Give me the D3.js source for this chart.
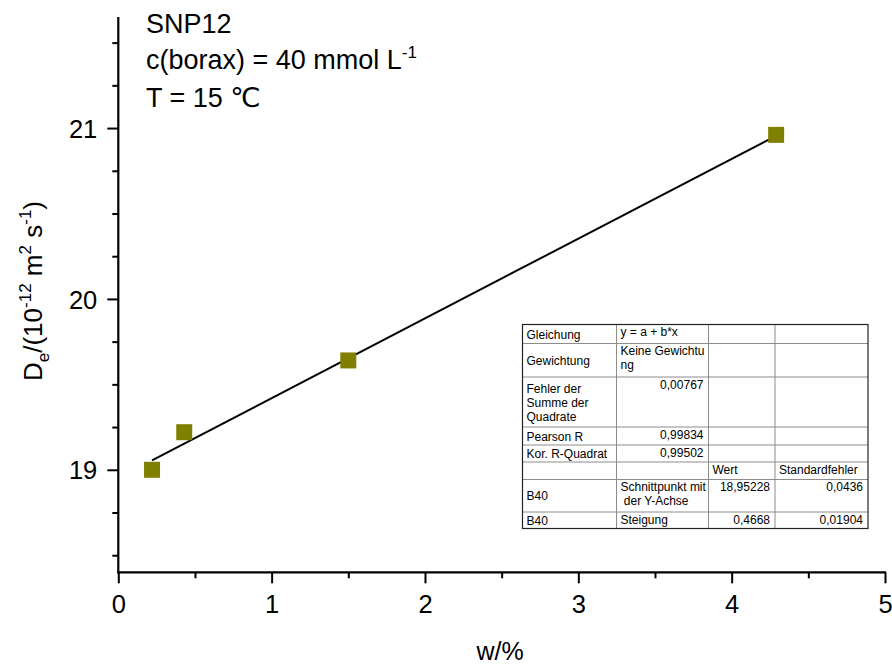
<!DOCTYPE html>
<html>
<head>
<meta charset="utf-8">
<script src="https://cdn.jsdelivr.net/npm/d3@7"></script>
<style>
  html, body { margin: 0; padding: 0; background: #fff; }
  svg { display: block; }
  text { font-family: "Liberation Sans", Arial, "DejaVu Sans", sans-serif; fill: #000; }
</style>
</head>
<body>
<svg id="chart" width="892" height="668"></svg>
<script>
// Effective diffusion coefficient vs. mass fraction (SNP12, 40 mmol/L borax, 15 °C)
const wPercent = [0.22, 0.43, 1.5, 4.29];
const De = [19.0, 19.22, 19.64, 20.96];

// Linear fit results (y = a + b*x)
const fitIntercept = 18.95228;
const fitSlope = 0.4668;

// Axis ticks
const xMajorTicks = [0, 1, 2, 3, 4, 5];
const xMinorTicks = [0.5, 1.5, 2.5, 3.5, 4.5];
const yMajorTicks = [19, 20, 21];
const yMinorTicks = [18.5, 18.75, 19.25, 19.5, 19.75, 20.25, 20.5, 20.75, 21.25, 21.5];

// Annotation lines
const titleLines = ["SNP12", "c(borax) = 40 mmol L", "T = 15 \u2103"];

// Fit report table contents (one array per row, four columns)
const tableRows = [
  [["Gleichung"], ["y = a + b*x"], [], []],
  [["Gewichtung"], ["Keine Gewichtu", "ng"], [], []],
  [["Fehler der", "Summe der", "Quadrate"], ["0,00767"], [], []],
  [["Pearson R"], ["0,99834"], [], []],
  [["Kor. R-Quadrat"], ["0,99502"], [], []],
  [[], [], ["Wert"], ["Standardfehler"]],
  [["B40"], ["Schnittpunkt mit", " der Y-Achse"], ["18,95228"], ["0,0436"]],
  [["B40"], ["Steigung"], ["0,4668"], ["0,01904"]]
];
// which cells are right aligned numbers
const numericCell = [
  [false, false, false, false],
  [false, false, false, false],
  [false, true, false, false],
  [false, true, false, false],
  [false, true, false, false],
  [false, false, false, false],
  [false, false, true, true],
  [false, false, true, true]
];

const svg = d3.select("#chart");

const x = d3.scaleLinear().domain([0, 5]).range([118.3, 885]);
const y = d3.scaleLinear().domain([18.4, 21.65]).range([572.3, 17]);

const axisFont = 25.5;

// ---- Y axis
const gy = svg.append("g").attr("transform", `translate(${x(0)},0)`);
gy.append("line")
  .attr("x1", 0).attr("x2", 0)
  .attr("y1", y.range()[1]).attr("y2", y.range()[0] + 1)
  .attr("stroke", "#000").attr("stroke-width", 2.2);
gy.append("g")
  .call(d3.axisLeft(y).tickValues(yMajorTicks).tickSize(11).tickPadding(10).tickSizeOuter(0).tickFormat(d3.format("d")))
  .call(g => g.select(".domain").remove())
  .call(g => g.selectAll("line").attr("stroke", "#000").attr("stroke-width", 2))
  .call(g => g.selectAll("text").attr("font-size", axisFont).attr("font-family", null).attr("dy", "0.36em"));
gy.append("g")
  .call(d3.axisLeft(y).tickValues(yMinorTicks).tickSize(6).tickSizeOuter(0).tickFormat(""))
  .call(g => g.select(".domain").remove())
  .call(g => g.selectAll("line").attr("stroke", "#000").attr("stroke-width", 2));

// ---- X axis
const gx = svg.append("g").attr("transform", `translate(0,${y(18.4)})`);
gx.append("line")
  .attr("x1", x(0) - 1).attr("x2", x(5) + 1)
  .attr("y1", 0).attr("y2", 0)
  .attr("stroke", "#000").attr("stroke-width", 2.2);
gx.append("g")
  .call(d3.axisBottom(x).tickValues(xMajorTicks).tickSize(11).tickPadding(12).tickSizeOuter(0).tickFormat(d3.format("d")))
  .call(g => g.select(".domain").remove())
  .call(g => g.selectAll("line").attr("stroke", "#000").attr("stroke-width", 2))
  .call(g => g.selectAll("text").attr("font-size", axisFont).attr("font-family", null));
gx.append("g")
  .call(d3.axisBottom(x).tickValues(xMinorTicks).tickSize(6).tickSizeOuter(0).tickFormat(""))
  .call(g => g.select(".domain").remove())
  .call(g => g.selectAll("line").attr("stroke", "#000").attr("stroke-width", 2));

// ---- Axis titles
svg.append("text")
  .attr("x", 500).attr("y", 660)
  .attr("text-anchor", "middle")
  .attr("font-size", 25)
  .text("w/%");

const yTitle = svg.append("text")
  .attr("transform", "translate(42,291) rotate(-90)")
  .attr("text-anchor", "middle")
  .attr("font-size", 26);
yTitle.append("tspan").text("D");
yTitle.append("tspan").attr("font-size", 17).attr("dy", 7).text("e");
yTitle.append("tspan").attr("dy", -7).text("/(10");
yTitle.append("tspan").attr("font-size", 17).attr("dy", -11).text("-12");
yTitle.append("tspan").attr("dy", 11).text(" m");
yTitle.append("tspan").attr("font-size", 17).attr("dy", -11).text("2");
yTitle.append("tspan").attr("dy", 11).text(" s");
yTitle.append("tspan").attr("font-size", 17).attr("dy", -11).text("-1");
yTitle.append("tspan").attr("dy", 11).text(")");

// ---- Annotation block
const titleBase = [33.3, 69, 106.7];
titleLines.forEach((t, i) => {
  const tx = svg.append("text")
    .attr("x", 146).attr("y", titleBase[i])
    .attr("font-size", 27)
    .text(t);
  if (i === 1) {
    tx.append("tspan").attr("font-size", 17).attr("dy", -11).text("-1");
  }
});

// ---- Fit line
const xs = d3.extent(wPercent);
svg.append("line")
  .attr("x1", x(xs[0])).attr("y1", y(fitIntercept + fitSlope * xs[0]))
  .attr("x2", x(xs[1])).attr("y2", y(fitIntercept + fitSlope * xs[1]))
  .attr("stroke", "#000").attr("stroke-width", 2);

// ---- Data markers
const markerSize = 16;
svg.append("g").selectAll("rect")
  .data(wPercent.map((w, i) => [w, De[i]]))
  .join("rect")
  .attr("x", d => x(d[0]) - markerSize / 2)
  .attr("y", d => y(d[1]) - markerSize / 2)
  .attr("width", markerSize).attr("height", markerSize)
  .attr("fill", "#808000");

// ---- Fit report table
const colEdges = [522.5, 616.5, 708.5, 775, 868];
const rowEdges = [324.5, 343.5, 377, 427, 445, 462, 479.5, 512, 528.5];
const tbl = svg.append("g");
tbl.append("rect")
  .attr("x", colEdges[0]).attr("y", rowEdges[0])
  .attr("width", colEdges[4] - colEdges[0]).attr("height", rowEdges[8] - rowEdges[0])
  .attr("fill", "#fff");
rowEdges.slice(1, -1).forEach(ry => {
  tbl.append("line").attr("x1", colEdges[0]).attr("x2", colEdges[4])
    .attr("y1", ry).attr("y2", ry).attr("stroke", "#8c8c8c").attr("stroke-width", 1);
});
colEdges.slice(1, -1).forEach(cx => {
  tbl.append("line").attr("x1", cx).attr("x2", cx)
    .attr("y1", rowEdges[0]).attr("y2", rowEdges[8]).attr("stroke", "#8c8c8c").attr("stroke-width", 1);
});
tbl.append("rect")
  .attr("x", colEdges[0]).attr("y", rowEdges[0])
  .attr("width", colEdges[4] - colEdges[0]).attr("height", rowEdges[8] - rowEdges[0])
  .attr("fill", "none").attr("stroke", "#222").attr("stroke-width", 1.2);

const cellFont = 12;
const lineGap = 14;
tableRows.forEach((row, r) => {
  const top = rowEdges[r], bottom = rowEdges[r + 1];
  row.forEach((lines, c) => {
    if (!lines.length) return;
    const left = colEdges[c], right = colEdges[c + 1];
    const right_ = numericCell[r][c];
    let firstBase;
    if (c === 0) {
      // first column is centred vertically
      const blockH = (lines.length - 1) * lineGap;
      firstBase = (top + bottom) / 2 - blockH / 2 + 4.5;
    } else {
      firstBase = top + 11.5;
    }
    const t = tbl.append("text")
      .attr("font-size", cellFont)
      .attr("text-anchor", right_ ? "end" : "start")
      .attr("xml:space", "preserve");
    lines.forEach((ln, k) => {
      t.append("tspan")
        .attr("x", right_ ? right - 5 : left + 4)
        .attr("y", firstBase + k * lineGap)
        .text(ln);
    });
  });
});
</script>
</body>
</html>
